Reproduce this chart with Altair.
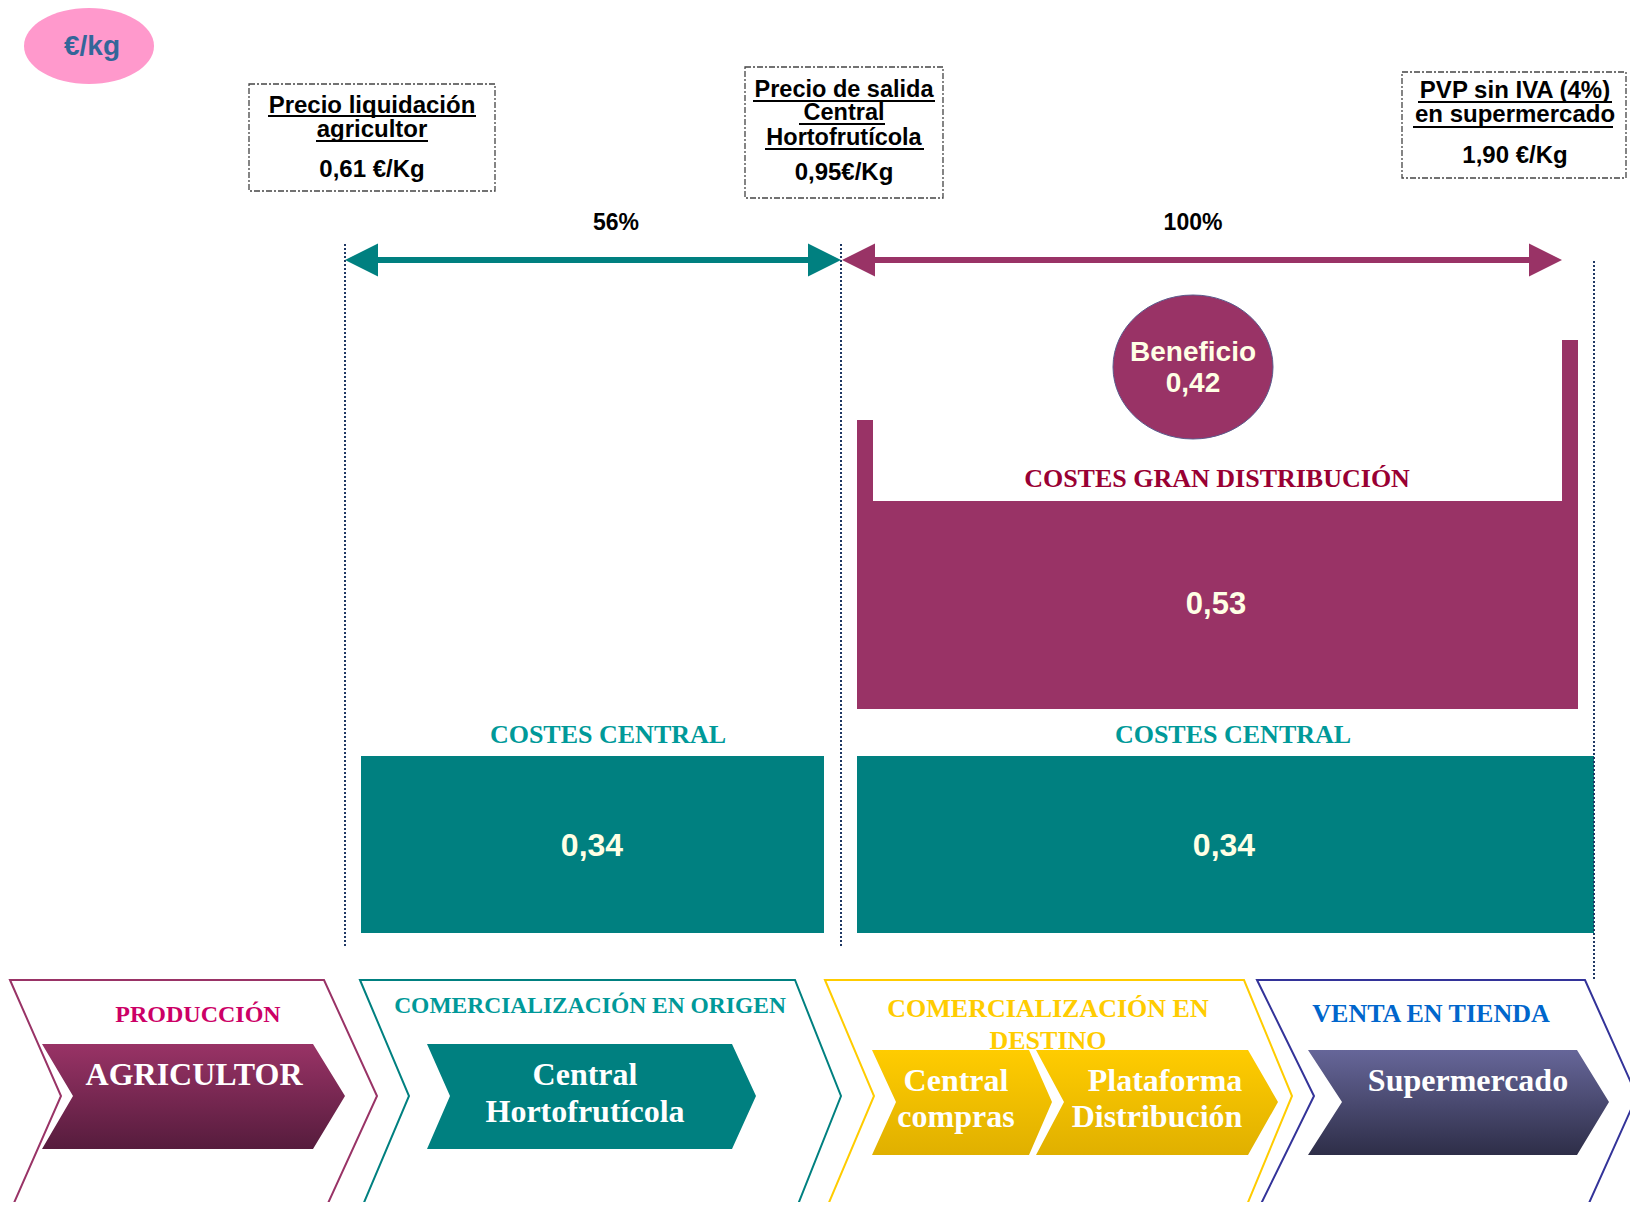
import altair as alt
import pandas as pd

# ------------------------------------------------------------------ values
unit_label = "€/kg"
price_titles = [["Precio liquidación", "agricultor"],
                ["Precio de salida", "Central", "Hortofrutícola"],
                ["PVP sin IVA (4%)", "en supermercado"]]
price_values = [0.61, 0.95, 1.90]
price_units = [" €/Kg", "€/Kg", " €/Kg"]
share_labels = ["56%", "100%"]
central_cost_label = "COSTES CENTRAL"
central_costs = [0.34, 0.34]
gd_cost_label = "COSTES GRAN DISTRIBUCIÓN"
gd_cost = [0.53]
profit_label = "Beneficio"
profit = [0.42]
stage_titles = [["PRODUCCIÓN"], ["COMERCIALIZACIÓN EN ORIGEN"],
                ["COMERCIALIZACIÓN EN", "DESTINO"], ["VENTA EN TIENDA"]]
actor_names = [["AGRICULTOR"], ["Central", "Hortofrutícola"], ["Central", "compras"],
               ["Plataforma", "Distribución"], ["Supermercado"]]


def eu(v):
    return f"{v:.2f}".replace(".", ",")


# ------------------------------------------------------------------ layout (pixel space)
PURPLE, TEAL, TEAL_T, CREAM = "#993366", "#008080", "#009999", "#FFFFE5"
SANS, SERIF = "Liberation Sans, Arial, sans-serif", "Liberation Serif, Times New Roman, serif"

box_rects = [(249, 495, 84, 191), (745, 943, 67, 198), (1402, 1626, 72, 178)]
box_cx = [372, 844, 1515]
box_title_y = [[113, 137], [97, 120, 145], [98, 122]]
box_title_size = [24, 23.5, 24]
box_underlines = [[(268, 476, 116), (316, 428, 141)],
                  [(753, 935, 101), (799, 885, 124), (765, 924, 149)],
                  [(1418, 1612, 102), (1413, 1613, 127)]]
box_value_y = [177, 180, 163]

share_pos = [(616, 230), (1193, 230)]
arrows = [(345, 841, 260, TEAL), (842, 1562, 260, PURPLE)]
dotted = [(345, 244, 948), (841, 244, 948), (1594, 261, 980)]

central_bars = [(361, 824, 756, 933), (857, 1594, 756, 933)]
central_label_pos = [(608, 743), (1233, 743)]
central_value_pos = [(592, 856), (1224, 856)]
gd_parts = [(857, 1578, 501, 709), (857, 873, 420, 501), (1562, 1578, 340, 501)]
gd_label_pos = (1217, 487)
gd_value_pos = (1216, 614)
profit_ell = (1193, 367, 80, 72)
profit_text_y = [361, 392]
unit_ell = (89, 46, 65, 38)
unit_text_pos = (92, 55)

# outer chevrons: left, notch, right, tip, top, mid, bottom, stroke colour
outer_chev = [(10, 61, 324, 377, 980, 1096, 1212, "#993366"),
              (360, 409, 795, 841, 980, 1096, 1212, "#008080"),
              (825, 874, 1244, 1292, 980, 1096, 1212, "#FFCC00"),
              (1257, 1314, 1585, 1637, 980, 1096, 1212, "#333399")]
stage_title_pos = [[(198, 1022)], [(590, 1013)], [(1048, 1017), (1048, 1049)], [(1431, 1022)]]
stage_title_style = [(24, "#CC0066"), (23.5, TEAL_T), (26, "#FFCC00"), (26, "#0066CC")]

inner_chev = [(42, 73, 313, 345, 1044, 1096, 1149, "#993366", "#561C3D"),
              (427, 450, 732, 756, 1044, 1096, 1149, "#008080", "#008080"),
              (872, 896, 1029, 1052, 1050, 1102, 1155, "#FFCC00", "#E0B000"),
              (1036, 1064, 1248, 1278, 1050, 1102, 1155, "#FFCC00", "#E0B000"),
              (1308, 1342, 1577, 1609, 1050, 1102, 1155, "#666699", "#2E2E48")]
actor_pos = [[(194, 1085)], [(585, 1085), (585, 1122)], [(956, 1091), (956, 1127)],
             [(1165, 1091), (1157, 1127)], [(1468, 1091)]]

# ------------------------------------------------------------------ helpers
XS = alt.Scale(domain=[8, 1630], nice=False, zero=False)
YS = alt.Scale(domain=[8, 1202], nice=False, zero=False, reverse=True)


def X(f="x"):
    return alt.X(f"{f}:Q", scale=XS, axis=None)


def Y(f="y"):
    return alt.Y(f"{f}:Q", scale=YS, axis=None)


def ellipse_path(k):
    c = 0.5523
    return (f"M -1 0 C -1 {-c*k:.4f} {-c:.4f} {-k:.4f} 0 {-k:.4f} "
            f"C {c:.4f} {-k:.4f} 1 {-c*k:.4f} 1 0 "
            f"C 1 {c*k:.4f} {c:.4f} {k:.4f} 0 {k:.4f} "
            f"C {-c:.4f} {k:.4f} -1 {c*k:.4f} -1 0 Z")


def text_layer(rows, font):
    df = pd.DataFrame(rows, columns=["x", "y", "t", "s", "c"])
    return alt.Chart(df).mark_text(font=font, fontWeight="bold", align="center",
                                   baseline="alphabetic").encode(
        x=X(), y=Y(), text="t:N",
        size=alt.Size("s:Q", scale=None, legend=None),
        color=alt.Color("c:N", scale=None, legend=None))


layers = []

# outer chevrons (outline)
for (l, n, r, tip, top, mid, bot, col) in outer_chev:
    df = pd.DataFrame({"y": [top, mid, bot], "x": [l, n, l], "x2": [r, tip, r]})
    layers.append(alt.Chart(df).mark_area(orient="horizontal", fillOpacity=0, stroke=col,
                                          strokeWidth=2).encode(
        y=Y(), x=X(), x2=alt.X2("x2")))

# inner chevrons (filled with vertical gradient)
for (l, n, r, tip, top, mid, bot, c1, c2) in inner_chev:
    df = pd.DataFrame({"y": [top, mid, bot], "x": [l, n, l], "x2": [r, tip, r]})
    grad = alt.Gradient(gradient="linear",
                        stops=[alt.GradientStop(color=c1, offset=0),
                               alt.GradientStop(color=c2, offset=1)],
                        x1=0, x2=0, y1=0, y2=1)
    layers.append(alt.Chart(df).mark_area(orient="horizontal", color=grad).encode(
        y=Y(), x=X(), x2=alt.X2("x2")))

# cost blocks
rects = [dict(x=a, x2=b, y=c, y2=d, c=TEAL) for (a, b, c, d) in central_bars]
rects += [dict(x=a, x2=b, y=c, y2=d, c=PURPLE) for (a, b, c, d) in gd_parts]
layers.append(alt.Chart(pd.DataFrame(rects)).mark_rect().encode(
    x=X(), x2=alt.X2("x2"), y=Y(), y2=alt.Y2("y2"),
    color=alt.Color("c:N", scale=None, legend=None)))

# ellipses
cx, cy, rx, ry = unit_ell
layers.append(alt.Chart(pd.DataFrame({"x": [cx], "y": [cy]})).mark_point(
    filled=True, opacity=1, shape=ellipse_path(ry / rx), size=(2 * rx) ** 2,
    color="#FF99CC").encode(x=X(), y=Y()))
cx, cy, rx, ry = profit_ell
layers.append(alt.Chart(pd.DataFrame({"x": [cx], "y": [cy]})).mark_point(
    filled=True, opacity=1, shape=ellipse_path(ry / rx), size=(2 * rx) ** 2,
    color=PURPLE, stroke="#5A5A8C", strokeWidth=1).encode(x=X(), y=Y()))

# dotted guide lines
layers.append(alt.Chart(pd.DataFrame([dict(x=a, y=b, y2=c) for (a, b, c) in dotted])).mark_rule(
    color="#1F3864", strokeWidth=2, strokeDash=[2, 2]).encode(x=X(), y=Y(), y2=alt.Y2("y2")))

# arrows
for (a, b, yy, col) in arrows:
    layers.append(alt.Chart(pd.DataFrame({"x": [a + 20], "x2": [b - 20], "y": [yy]})).mark_rule(
        color=col, strokeWidth=6).encode(x=X(), x2=alt.X2("x2"), y=Y()))
    layers.append(alt.Chart(pd.DataFrame({"x": [a + 16.5], "y": [yy]})).mark_point(
        filled=True, opacity=1, shape="M -1 0 L 1 -1 L 1 1 Z", size=33 ** 2,
        color=col).encode(x=X(), y=Y()))
    layers.append(alt.Chart(pd.DataFrame({"x": [b - 16.5], "y": [yy]})).mark_point(
        filled=True, opacity=1, shape="M 1 0 L -1 -1 L -1 1 Z", size=33 ** 2,
        color=col).encode(x=X(), y=Y()))

# price boxes
layers.append(alt.Chart(pd.DataFrame([dict(x=a, x2=b, y=c, y2=d) for (a, b, c, d) in box_rects]))
              .mark_rect(fillOpacity=0, stroke="#444444", strokeWidth=1.3, strokeDash=[6, 2, 2, 2])
              .encode(x=X(), x2=alt.X2("x2"), y=Y(), y2=alt.Y2("y2")))
ul = [dict(x=a, x2=b, y=c) for box in box_underlines for (a, b, c) in box]
layers.append(alt.Chart(pd.DataFrame(ul)).mark_rule(color="#000000", strokeWidth=2).encode(
    x=X(), x2=alt.X2("x2"), y=Y()))

# ------------------------------------------------------------------ texts
sans_rows = [(unit_text_pos[0], unit_text_pos[1], unit_label, 28, "#336699")]
for i, lines in enumerate(price_titles):
    for t, yy in zip(lines, box_title_y[i]):
        sans_rows.append((box_cx[i], yy, t, box_title_size[i], "#000000"))
    sans_rows.append((box_cx[i], box_value_y[i], eu(price_values[i]) + price_units[i], 24, "#000000"))
for t, (xx, yy) in zip(share_labels, share_pos):
    sans_rows.append((xx, yy, t, 23, "#000000"))
for v, (xx, yy) in zip(central_costs, central_value_pos):
    sans_rows.append((xx, yy, eu(v), 32, CREAM))
sans_rows.append((gd_value_pos[0], gd_value_pos[1], eu(gd_cost[0]), 31, CREAM))
sans_rows.append((profit_ell[0], profit_text_y[0], profit_label, 28, CREAM))
sans_rows.append((profit_ell[0], profit_text_y[1], eu(profit[0]), 28, CREAM))

serif_rows = []
for (xx, yy) in central_label_pos:
    serif_rows.append((xx, yy, central_cost_label, 26, TEAL_T))
serif_rows.append((gd_label_pos[0], gd_label_pos[1], gd_cost_label, 26, "#990033"))
for i, lines in enumerate(stage_titles):
    s, c = stage_title_style[i]
    for t, (xx, yy) in zip(lines, stage_title_pos[i]):
        serif_rows.append((xx, yy, t, s, c))
for i, lines in enumerate(actor_names):
    for t, (xx, yy) in zip(lines, actor_pos[i]):
        serif_rows.append((xx, yy, t, 32, "#FFFFFF"))

layers.append(text_layer(sans_rows, SANS))
layers.append(text_layer(serif_rows, SERIF))

chart = alt.layer(*layers).properties(
    width=1622, height=1194, padding=0, background="#FFFFFF",
    autosize=alt.AutoSizeParams(type="none")
).configure_view(stroke=None)

chart.save("out.html", embed_options={"renderer": "svg", "actions": False})
